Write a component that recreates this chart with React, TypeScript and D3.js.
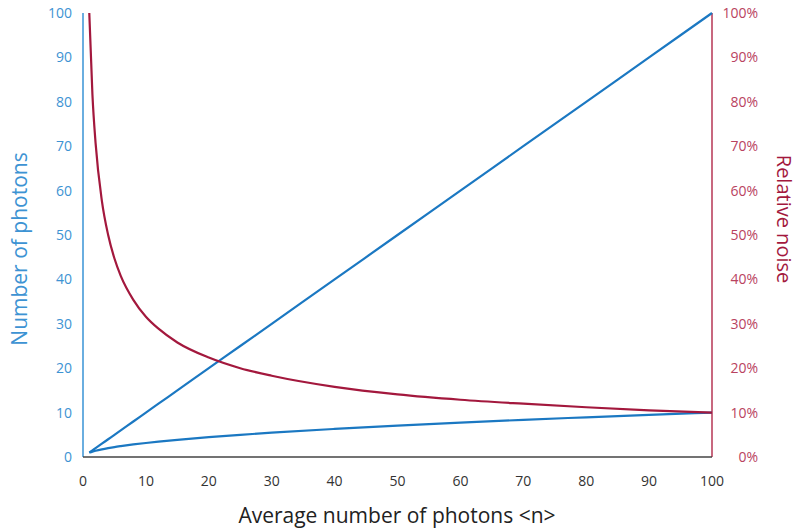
import React from "react";
import * as d3 from "d3";

const photonsN = [1, 1.5, 2, 3, 4, 5, 6, 8, 10, 12, 15, 20, 25, 30, 40, 50, 60, 70, 80, 90, 100];
const linearValues = [1, 1.5, 2, 3, 4, 5, 6, 8, 10, 12, 15, 20, 25, 30, 40, 50, 60, 70, 80, 90, 100];
const sqrtValues = [1, 1.22, 1.41, 1.73, 2, 2.24, 2.45, 2.83, 3.16, 3.46, 3.87, 4.47, 5, 5.48, 6.32, 7.07, 7.75, 8.37, 8.94, 9.49, 10];
const noisePct = [100, 81.6, 70.7, 57.7, 50, 44.7, 40.8, 35.4, 31.6, 28.9, 25.8, 22.4, 20, 18.3, 15.8, 14.1, 12.9, 12, 11.2, 10.5, 10];
const xTicks = [0, 10, 20, 30, 40, 50, 60, 70, 80, 90, 100];
const leftTicks = [0, 10, 20, 30, 40, 50, 60, 70, 80, 90, 100];
const rightTicks = [0, 10, 20, 30, 40, 50, 60, 70, 80, 90, 100];

const BLUE = "#1b78c2";
const BLUE_LIGHT = "#3d93d3";
const RED = "#a3183d";
const RED_LIGHT = "#b9435f";
const FONT = "'Open Sans', 'Noto Sans', sans-serif";

export default function App() {
  const x = d3.scaleLinear().domain([0, 100]).range([83, 712]);
  const yL = d3.scaleLinear().domain([0, 100]).range([457, 13]);
  const yR = d3.scaleLinear().domain([0, 100]).range([457, 13]);

  const lineL = (vals: number[]) =>
    d3.line<number>().x((_, i) => x(photonsN[i])).y((d) => yL(d)).curve(d3.curveMonotoneX)(vals) || "";
  const lineR = d3.line<number>().x((_, i) => x(photonsN[i])).y((d) => yR(d)).curve(d3.curveMonotoneX)(noisePct) || "";

  return (
    <svg width={800} height={530} style={{ position: "absolute", left: 0, top: 0, background: "#fff" }} fontFamily={FONT}>
      <rect width={800} height={530} fill="#fff" />
      {/* axes */}
      <line x1={x(0)} x2={x(0)} y1={yL(100)} y2={yL(0)} stroke="#6aaee0" strokeWidth={2} />
      <line x1={x(100)} x2={x(100)} y1={yR(100)} y2={yR(0)} stroke="#c8687f" strokeWidth={2} />
      <line x1={x(0)} x2={x(100)} y1={yL(0)} y2={yL(0)} stroke="#444" strokeWidth={1.5} />

      {/* series */}
      <path d={lineL(linearValues)} fill="none" stroke={BLUE} strokeWidth={2.2} />
      <path d={lineL(sqrtValues)} fill="none" stroke={BLUE} strokeWidth={2.2} />
      <path d={lineR} fill="none" stroke={RED} strokeWidth={2.2} />

      {/* left ticks */}
      {leftTicks.map((t) => (
        <text key={"l" + t} x={72} y={yL(t)} dy="0.35em" textAnchor="end" fontSize={14} fill={BLUE_LIGHT}>
          {t}
        </text>
      ))}
      {/* right ticks */}
      {rightTicks.map((t) => (
        <text key={"r" + t} x={758} y={yR(t)} dy="0.35em" textAnchor="end" fontSize={14} fill={RED_LIGHT}>
          {t + "%"}
        </text>
      ))}
      {/* x ticks */}
      {xTicks.map((t) => (
        <text key={"x" + t} x={x(t)} y={486} textAnchor="middle" fontSize={14} fill="#333">
          {t}
        </text>
      ))}

      {/* titles */}
      <text x={397} y={523} textAnchor="middle" fontSize={21} fill="#222">
        Average number of photons &lt;n&gt;
      </text>
      <text transform="translate(27,249) rotate(-90)" textAnchor="middle" fontSize={21} fill={BLUE_LIGHT}>
        Number of photons
      </text>
      <text transform="translate(777,219) rotate(90)" textAnchor="middle" fontSize={20} fill={RED}>
        Relative noise
      </text>
    </svg>
  );
}
